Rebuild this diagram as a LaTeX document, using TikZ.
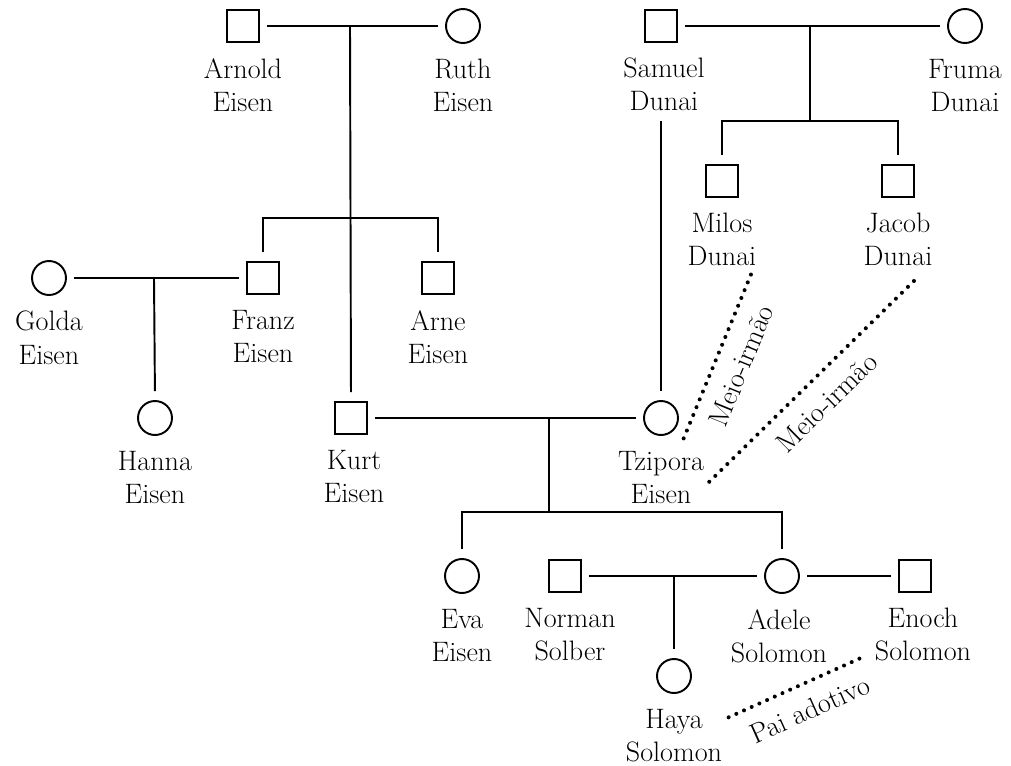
\documentclass[tikz,border=0pt]{standalone}
\usepackage{fontspec}
\usepackage{tikz}
\usetikzlibrary{positioning}

\tikzset{
  male/.style={draw,rectangle,line width=1.1pt,minimum size=0.64cm,inner sep=0pt},
  female/.style={draw,circle,line width=1.1pt,minimum size=0.68cm,inner sep=0pt},
  who/.style={align=center,inner sep=0pt},
  kin/.style={line width=1.1pt,shorten <=0.15cm,shorten >=0.15cm},
  descent/.style={line width=1.1pt,shorten >=0.18cm},
  sibs/.style={line width=1.1pt,shorten <=0.18cm,shorten >=0.18cm},
  tie/.style={line width=2.3pt,line cap=round,dash pattern=on 0pt off 4.8pt,shorten <=1pt,shorten >=1pt},
  tietext/.style={sloped,below=8pt,inner sep=0pt}
}

\begin{document}
\begin{tikzpicture}[x=0.02cm,y=-0.02cm,font=\fontsize{16}{18.8}\selectfont]
  \useasboundingbox (0,0) rectangle (1011,765);
  % grandparents
  \node[male]   (arnold) at (243,26) {};
  \node[female] (ruth)   at (463,26) {};
  \node[male]   (samuel) at (661,26) {};
  \node[female] (fruma)  at (965,26) {};
  \node[who,below=0.3cm of arnold] (arnoldT) {Arnold\\Eisen};
  \node[who,below=0.3cm of ruth]   (ruthT)   {Ruth\\Eisen};
  \node[who,below=0.3cm of samuel,xshift=0.06cm] (samuelT) {Samuel\\Dunai};
  \node[who,below=0.3cm of fruma]  (frumaT)  {Fruma\\Dunai};
  % second generation
  \node[male]   (milos)   at (722,181) {};
  \node[male]   (jacob)   at (898,181) {};
  \node[female] (golda)   at (49,278) {};
  \node[male]   (franz)   at (263,278) {};
  \node[male]   (arne)    at (438,278) {};
  \node[female] (hanna)   at (155,418) {};
  \node[male]   (kurt)    at (351,418) {};
  \node[female] (tzipora) at (661,418) {};
  \node[who,below=0.3cm of milos]   (milosT)   {Milos\\Dunai};
  \node[who,below=0.3cm of jacob]   (jacobT)   {Jacob\\Dunai};
  \node[who,below=0.3cm of golda]   (goldaT)   {Golda\\Eisen};
  \node[who,below=0.3cm of franz]   (franzT)   {Franz\\Eisen};
  \node[who,below=0.3cm of arne]    (arneT)    {Arne\\Eisen};
  \node[who,below=0.3cm of hanna]   (hannaT)   {Hanna\\Eisen};
  \node[who,below=0.3cm of kurt,xshift=0.06cm] (kurtT) {Kurt\\Eisen};
  \node[who,below=0.3cm of tzipora] (tziporaT) {Tzipora\\Eisen};
  % grandchildren
  \node[male]   (norman) at (565,576) {};
  \node[female] (eva)    at (462,576) {};
  \node[female] (adele)  at (782,576) {};
  \node[male]   (enoch)  at (915,576) {};
  \node[female] (haya)   at (674,676) {};
  \node[who,below=0.3cm of eva]    (evaT)    {Eva\\Eisen};
  \node[who,below=0.3cm of norman,xshift=0.1cm] (normanT) {Norman\\Solber};
  \node[who,below=0.3cm of adele,xshift=-0.06cm] (adeleT) {Adele\\Solomon};
  \node[who,below=0.3cm of enoch,xshift=0.16cm] (enochT) {Enoch\\Solomon};
  \node[who,below=0.3cm of haya]   (hayaT)   {Haya\\Solomon};

  % couples
  \draw[kin] (arnold) -- (ruth);
  \draw[kin] (samuel) -- (fruma);
  \draw[kin] (golda) -- (franz);
  \draw[kin] (kurt) -- (tzipora);
  \draw[kin] (norman) -- (adele);
  \draw[kin] (adele) -- (enoch);

  % lines of descent
  \coordinate (ar)  at (350,26);
  \coordinate (arK) at (350,218);
  \coordinate (sf)  at (810,26);
  \coordinate (sfK) at (810,121);
  \coordinate (gf)  at (154,278);
  \coordinate (kt)  at (549,418);
  \coordinate (ktK) at (549,512);
  \coordinate (na)  at (674,576);
  \draw[descent] (ar) -- (kurt.north);
  \draw[sibs] (franz.north) |- (arK) -| (arne.north);
  \draw[line width=1.1pt] (sf) -- (sfK);
  \draw[sibs] (milos.north) |- (sfK) -| (jacob.north);
  \draw[descent] (gf) -- (hanna.north);
  \draw[sibs] (tzipora.north |- samuelT.south) -- (tzipora.north);
  \draw[line width=1.1pt] (kt) -- (ktK);
  \draw[sibs] (eva.north) |- (ktK) -| (adele.north);
  \draw[descent] (na) -- (haya.north);

  % half siblings and adoption
  \coordinate (tzA)    at (683,440);
  \coordinate (tzB)    at (708,483);
  \coordinate (milosB) at (752,272);
  \coordinate (jacobB) at (918,277);
  \coordinate (hayaB)  at (727,718);
  \coordinate (enochB) at (863,657);
  \draw[tie] (tzA) -- node[tietext] {Meio-irmão} (milosB);
  \draw[tie] (tzB) -- node[tietext,pos=0.48] {Meio-irmão} (jacobB);
  \draw[tie] (hayaB) -- node[tietext,pos=0.53] {Pai adotivo} (enochB);
\end{tikzpicture}
\end{document}
